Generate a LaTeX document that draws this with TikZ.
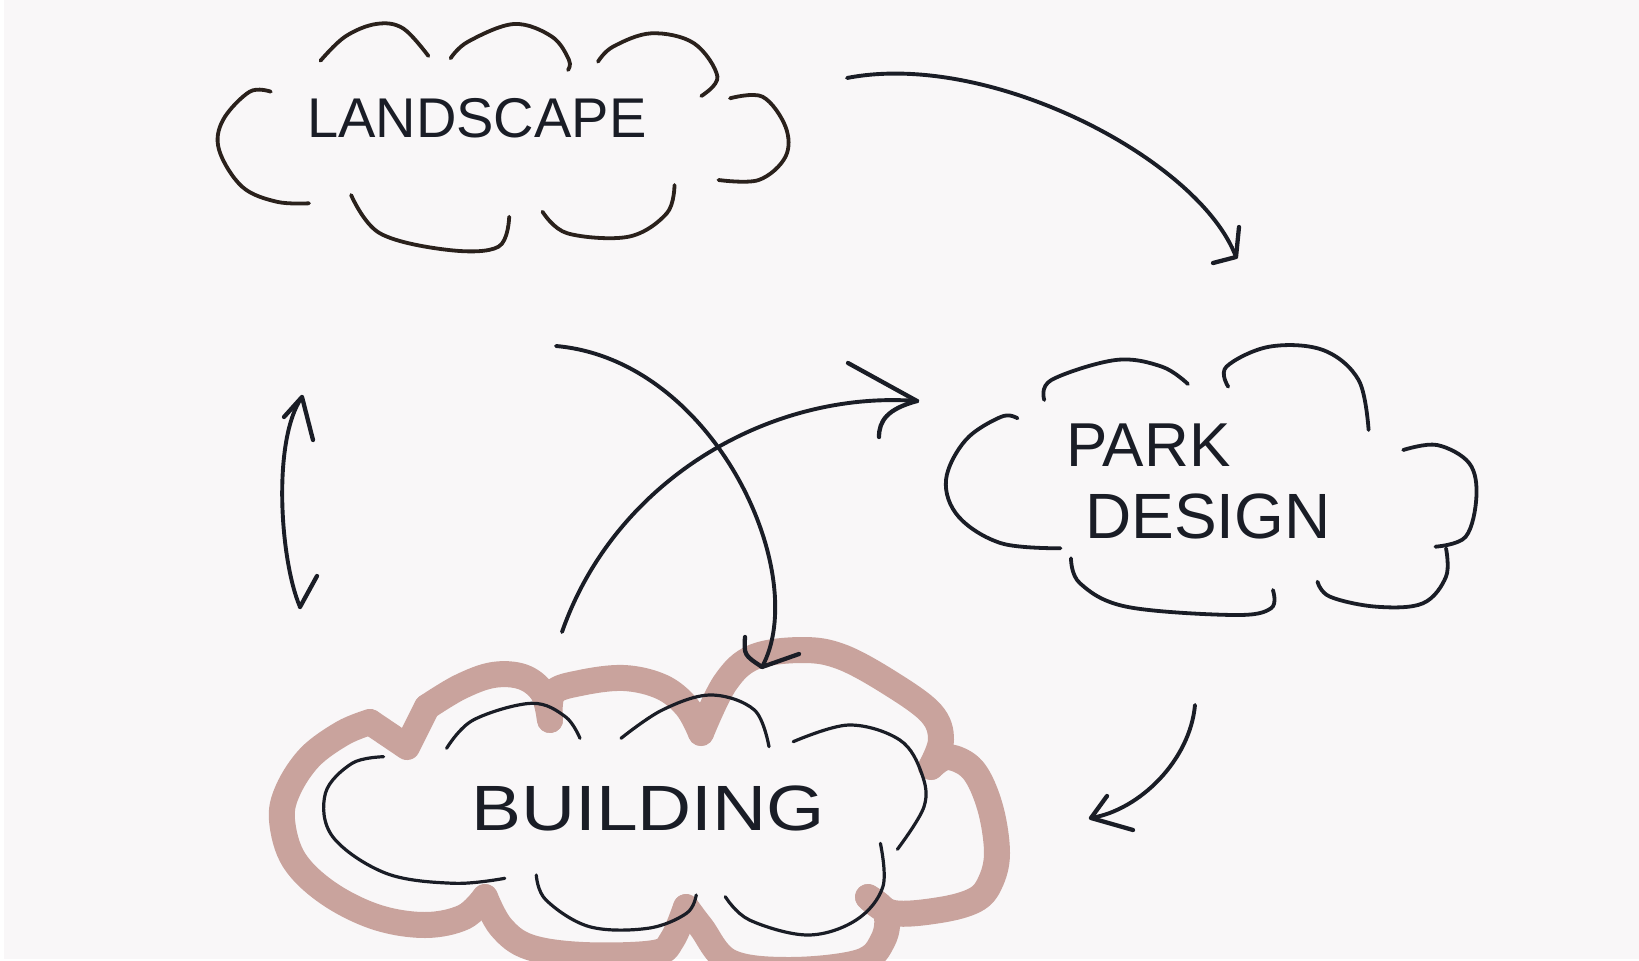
\documentclass[tikz,border=0pt]{standalone}
\usepackage{fontspec}
\usepackage{graphicx}
\setmainfont{Liberation Sans}
\usetikzlibrary{calc}
\definecolor{paper}{HTML}{F9F7F8}
\definecolor{ink}{HTML}{1A1D26}
\definecolor{brownink}{HTML}{2A211C}
\definecolor{rose}{HTML}{C9A39D}
\tikzset{
  cloudline/.style={ink, line width=3.8pt, line cap=round, line join=round},
  thincloud/.style={ink, line width=3.2pt, line cap=round, line join=round},
  hilite/.style={rose, line width=26pt, line cap=round, line join=round},
  shaft/.style={ink, line width=3.9pt, line cap=round},
  barb/.style={ink, line width=4.3pt, line cap=round, line join=round},
  cloudtext/.style={ink, inner sep=0pt, anchor=base west},
  smoothcurve/.style={smooth, tension=0.6},
}
\begin{document}
\begin{tikzpicture}[x=1pt,y=-1pt]
\useasboundingbox (0,0) rectangle (1639,961);
\fill[white] (0,0) rectangle (1639,961);
\fill[paper] (4,0) rectangle (1639,959);

% ---------- pink highlight round BUILDING ----------
\begin{scope}
\clip (0,0) rectangle (1639,961);
\draw[hilite] plot[smoothcurve] coordinates {(370,722) (343,733) (310,757) (288,790) (282,820) (294,860) (328,893) (376,917) (425,925) (464,917) (485,897)};
\draw[hilite] (370,722) -- (407,747) -- (427,707);
\draw[hilite] plot[smoothcurve] coordinates {(427,707) (460,687) (493,675) (523,677) (543,693) (550,720)};
\draw[hilite] plot[smoothcurve] coordinates {(550,720) (553,693) (580,683) (624,678) (662,687) (687,707) (701,733)};
\draw[hilite] plot[smoothcurve] coordinates {(701,733) (725,683) (754,657) (803,650) (842,657) (890,683) (931,713) (941,740) (931,767)};
\draw[hilite] plot[smoothcurve] coordinates {(931,767) (948,757) (973,770) (990,807) (997,853) (990,883) (975,900) (940,910) (893,913) (868,897)};
\draw[hilite] plot[smoothcurve] coordinates {(868,897) (886,913) (883,940) (860,962) (790,970) (730,962) (701,927) (686,907)};
\draw[hilite] plot[smoothcurve] coordinates {(686,907) (672,940) (654,953) (583,955) (529,947) (501,927) (485,897)};
\end{scope}

% ---------- texts ----------
\node[cloudtext, font=\fontsize{56}{56}\selectfont] (land) at (307,137) {LANDSCAPE};
\node[cloudtext, font=\fontsize{62}{62}\selectfont] (park) at (1066,466) {PARK};
\node[cloudtext, font=\fontsize{64}{64}\selectfont] (design) at (1085,538) {DESIGN};
\node[cloudtext, font=\fontsize{64}{64}\selectfont] (bldg) at (471,830) {\scalebox{1.17}[1]{BUILDING}};

% ---------- LANDSCAPE cloud ----------
\begin{scope}[cloudline/.append style={brownink}]
\draw[cloudline] plot[smoothcurve] coordinates {(320.5,60.7) (345,36.7) (376,24) (403,28.3) (428.4,56)};
\draw[cloudline] plot[smoothcurve] coordinates {(450.6,58.3) (468,41.7) (514,24) (552,36.7) (569,60) (568,70)};
\draw[cloudline] plot[smoothcurve] coordinates {(598,61.7) (613,46.7) (651.5,33.3) (694,43.3) (717.4,76.7) (701.3,96)};
\draw[cloudline] plot[smoothcurve] coordinates {(730,98.3) (762.5,96.7) (785.5,126.7) (785.5,156.7) (758.7,180) (718.5,180)};
\draw[cloudline] plot[smoothcurve] coordinates {(674.5,185) (666.8,213.3) (628.6,236.7) (567.4,233.3) (542.5,211.7)};
\draw[cloudline] plot[smoothcurve] coordinates {(509.2,216.7) (498.5,246.7) (448.7,250) (379.9,233.3) (351.1,195)};
\draw[cloudline] plot[smoothcurve] coordinates {(270.8,91.7) (249.7,91.7) (223,120) (219.1,150) (242.1,186.7) (276.5,201.7) (309,203.3)};
\end{scope}

% ---------- PARK DESIGN cloud ----------
\draw[cloudline] plot[smoothcurve] coordinates {(1017.5,418.3) (1001.4,416.7) (965.7,440) (946,480) (958.6,516.7) (1001.4,543.3) (1060.4,548.3)};
\draw[cloudline] plot[smoothcurve] coordinates {(1044.3,400) (1051.4,380) (1115.7,360) (1162,366.7) (1187.9,384)};
\draw[cloudline] plot[smoothcurve] coordinates {(1228.2,386.7) (1226.4,366.7) (1269.3,346.7) (1322.9,350) (1358.6,380) (1368.6,430)};
\draw[cloudline] plot[smoothcurve] coordinates {(1403.2,450) (1437,445) (1469.3,463.3) (1476.4,496.7) (1465.7,536.7) (1435.4,546.7)};
\draw[cloudline] plot[smoothcurve] coordinates {(1446,548.3) (1446,576.7) (1422.9,603.3) (1376.4,606.7) (1330,596.7) (1317.5,581.7)};
\draw[cloudline] plot[smoothcurve] coordinates {(1272.9,590) (1271,608.3) (1233.6,615) (1126.4,606.7) (1080,583.3) (1071,558.3)};

% ---------- BUILDING cloud ----------
\draw[thincloud] plot[smoothcurve] coordinates {(383.6,756.7) (352.1,763.3) (325.4,793.3) (332.7,836.7) (386,873.3) (453.9,883.3) (504.8,878.3)};
\draw[thincloud] plot[smoothcurve] coordinates {(446.6,748.3) (473.3,720) (531.4,703.3) (565.4,716.7) (580,738.3)};
\draw[thincloud] plot[smoothcurve] coordinates {(621,738.3) (662.3,710) (710.8,695) (754.4,710) (769,746.7)};
\draw[thincloud] plot[smoothcurve] coordinates {(793.2,741.7) (848.9,725) (899.8,740) (921.6,773.3) (924,806.7) (897.4,849.3)};
\draw[thincloud] plot[smoothcurve] coordinates {(880.4,843.3) (882.9,886.7) (856.2,920) (807.7,935) (749.5,920) (725.3,896.7)};
\draw[thincloud] plot[smoothcurve] coordinates {(696.2,895) (686.5,913.3) (647.8,928.3) (589.6,926.7) (546,900) (536.3,875)};

% ---------- connectors ----------
\coordinate (a1s) at (847,78);   \coordinate (a1e) at (1236,257);
\coordinate (b1s) at (556,346);  \coordinate (b1e) at (762,667);
\coordinate (c1s) at (562,632);  \coordinate (c1e) at (917,401);
\coordinate (d1s) at (1195,705); \coordinate (d1e) at (1091,818);
\coordinate (e1s) at (302,397);  \coordinate (e1e) at (300,607);

% LANDSCAPE -> PARK DESIGN
\draw[shaft] (a1s) .. controls (990,50) and (1200,160) .. (a1e);
\draw[barb] (a1e) -- ++(3,-30) (a1e) -- ++(-23,6);

% LANDSCAPE -> BUILDING
\draw[shaft] (b1s) .. controls (715,360) and (812,575) .. (b1e);
\draw[barb] ($(b1e)+(-17,-30)$) .. controls ($(b1e)+(-18,-12)$) .. (b1e) -- ++(37,-13);

% BUILDING -> PARK DESIGN
\draw[shaft] (c1s) .. controls (615,480) and (770,390) .. (c1e);
\draw[barb] (c1e) -- ++(-69,-38);
\draw[barb] (c1e) .. controls ($(c1e)+(-30,8)$) and ($(c1e)+(-38,20)$) .. ($(c1e)+(-38,36)$);

% PARK DESIGN -> BUILDING
\draw[shaft] (d1s) .. controls (1190,760) and (1140,810) .. (d1e);
\draw[barb] (d1e) -- ++(16,-22) (d1e) -- ++(42,12);

% LANDSCAPE <-> BUILDING
\draw[shaft] (e1s) .. controls (272,440) and (280,560) .. (e1e);
\draw[barb] (e1s) -- ++(11,43) (e1s) -- ++(-18,20);
\draw[barb] (e1e) -- ++(17,-31);
\end{tikzpicture}
\end{document}
